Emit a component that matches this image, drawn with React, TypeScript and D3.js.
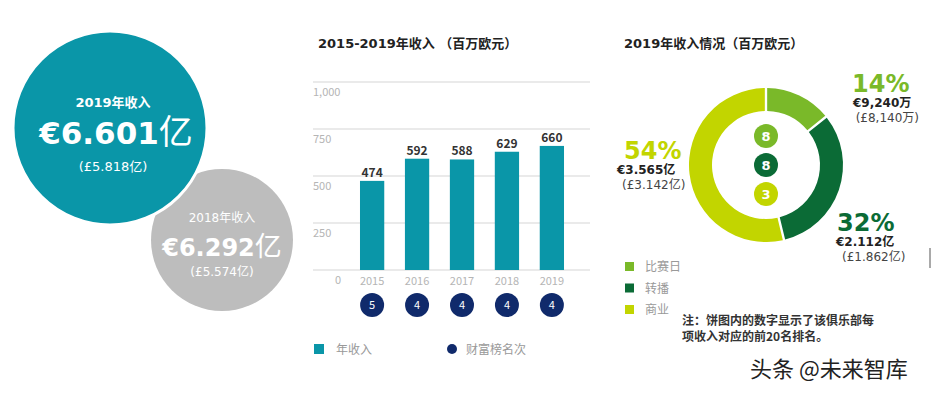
import * as d3 from "d3";

const years = ["2015", "2016", "2017", "2018", "2019"];
const revenue = [474, 592, 588, 629, 660];
const ranks = [5, 4, 4, 4, 4];
const yTicks = [0, 250, 500, 750, 1000];

const segNames = ["比赛日", "转播", "商业"];
const segShares = [14, 32, 54];
const segRanks = [8, 8, 3];
const segColors = ["#7ab929", "#0b6b36", "#c2d500"];

const W = 931;
const H = 394;
const FONT = "'Noto Sans CJK SC', 'DejaVu Sans', sans-serif";
const VERD = "'DejaVu Sans', 'Noto Sans CJK SC', sans-serif";
const TEAL = "#0a96a8";
const NAVY = "#102a6b";

export default function App() {
  // bar chart scales
  const x = d3.scaleBand().domain(years).range([351, 573]).paddingInner(0.46).paddingOuter(0.2);
  const y = d3.scaleLinear().domain([0, 1000]).range([270, 82]);

  // donut
  const cx = 766;
  const cy = 165;
  const pie = d3.pie<number>().sort(null).padAngle(0.025)(segShares);
  const arc = d3.arc<d3.PieArcDatum<number>>().innerRadius(54).outerRadius(77);
  const small = d3.scalePoint<number>().domain([0, 1, 2]).range([cy - 29, cy + 29]);

  return (
    <svg width={W} height={H} style={{ position: "absolute", left: 0, top: 0, background: "#fff" }} fontFamily={FONT}>
      {/* left bubbles */}
      <circle cx={222} cy={240} r={71} fill="#bdbdbd" />
      <circle cx={110} cy={128} r={97} fill={TEAL} stroke="#fff" strokeWidth={3} />
      <text x={113} y={107} textAnchor="middle" fill="#fff" fontSize={13} fontWeight="bold" fontFamily={VERD}>2019年收入</text>
      <text x={116} y={144} textAnchor="middle" fill="#fff" fontSize={31} fontWeight="bold" fontFamily={VERD}>€6.601<tspan fontWeight="normal" fontFamily={FONT} fontSize={34}>亿</tspan></text>
      <text x={113} y={171} textAnchor="middle" fill="#fff" fontSize={13} fontFamily={VERD}>(£5.818亿)</text>
      <text x={222} y={222} textAnchor="middle" fill="#fff" fontSize={12} fontFamily={VERD}>2018年收入</text>
      <text x={222} y={256} textAnchor="middle" fill="#fff" fontSize={24} fontWeight="bold" fontFamily={VERD}>€6.292<tspan fontWeight="normal" fontFamily={FONT} fontSize={27}>亿</tspan></text>
      <text x={222} y={276} textAnchor="middle" fill="#fff" fontSize={12} fontFamily={VERD}>(£5.574亿)</text>

      {/* bar chart */}
      <text x={318} y={48} fontSize={13} fontWeight="bold" fill="#222" fontFamily={VERD}>2015-2019年收入 （百万欧元）</text>
      {yTicks.map((t) => (
        <g key={t}>
          <line x1={313} x2={590} y1={y(t)} y2={y(t)} stroke="#e3e3e3" strokeWidth={1.5} />
          <text x={t === 0 ? 341 : 313} y={y(t) + 14} fontSize={11} fill="#b5b5b5" textAnchor={t === 0 ? "end" : "start"}>
            {d3.format(",")(t)}
          </text>
        </g>
      ))}
      {years.map((yr, i) => (
        <g key={yr}>
          <rect x={x(yr)} y={y(revenue[i])} width={x.bandwidth()} height={y(0) - y(revenue[i])} fill={TEAL} />
          <text x={x(yr)! + x.bandwidth() / 2} y={y(revenue[i]) - 4} textAnchor="middle" fontSize={12} fontWeight="bold" fill="#333">
            {revenue[i]}
          </text>
          <text x={x(yr)! + x.bandwidth() / 2} y={285} textAnchor="middle" fontSize={11} fill="#b5b5b5">{yr}</text>
          <circle cx={x(yr)! + x.bandwidth() / 2} cy={305} r={12} fill={NAVY} />
          <text x={x(yr)! + x.bandwidth() / 2} y={309} textAnchor="middle" fontSize={11} fill="#fff">{ranks[i]}</text>
        </g>
      ))}
      <rect x={314} y={344} width={10} height={10} fill={TEAL} />
      <text x={336} y={354} fontSize={12} fill="#999">年收入</text>
      <circle cx={452} cy={349} r={5} fill={NAVY} />
      <text x={466} y={354} fontSize={12} fill="#999">财富榜名次</text>

      {/* donut */}
      <text x={624} y={48} fontSize={13} fontWeight="bold" fill="#222" fontFamily={VERD}>2019年收入情况（百万欧元）</text>
      <g transform={`translate(${cx},${cy})`}>
        {pie.map((p, i) => (
          <path key={i} d={arc(p)!} fill={segColors[i]} />
        ))}
      </g>
      {segRanks.map((r, i) => (
        <g key={i}>
          <circle cx={cx} cy={small(i)} r={12} fill={segColors[i]} />
          <text x={cx} y={small(i)! + 5} textAnchor="middle" fontSize={13} fontWeight="bold" fill="#fff" fontFamily={VERD}>{r}</text>
        </g>
      ))}
      <g fontFamily={VERD}>
        <text x={852} y={92} fontSize={24} fontWeight="bold" fill={segColors[0]}>{segShares[0]}%</text>
        <text x={853} y={107} fontSize={12} fontWeight="bold" fill="#222">€9,240万</text>
        <text x={919} y={122} textAnchor="end" fontSize={12} fill="#444">(£8,140万)</text>
        <text x={624} y={159} fontSize={24} fontWeight="bold" fill={segColors[2]}>{segShares[2]}%</text>
        <text x={617} y={174} fontSize={12} fontWeight="bold" fill="#222">€3.565亿</text>
        <text x={622} y={189} fontSize={12} fill="#444">(£3.142亿)</text>
        <text x={837} y={231} fontSize={24} fontWeight="bold" fill={segColors[1]}>{segShares[1]}%</text>
        <text x={836} y={246} fontSize={12} fontWeight="bold" fill="#222">€2.112亿</text>
        <text x={842} y={261} fontSize={12} fill="#444">(£1.862亿)</text>
      </g>
      <line x1={930} x2={930} y1={248} y2={268} stroke="#555" strokeWidth={1} />

      {segNames.map((n, i) => (
        <g key={n}>
          <rect x={625} y={262 + i * 21.5} width={9} height={9} fill={segColors[i]} />
          <text x={645} y={271 + i * 21.5} fontSize={12} fill="#999">{n}</text>
        </g>
      ))}
      <text x={682} y={325} fontSize={12} fontWeight="bold" fill="#333">注：饼图内的数字显示了该俱乐部每</text>
      <text x={682} y={341} fontSize={12} fontWeight="bold" fill="#333">项收入对应的前20名排名。</text>

      <text x={750} y={377} fontSize={22} fill="#222">头条 @未来智库</text>
    </svg>
  );
}
